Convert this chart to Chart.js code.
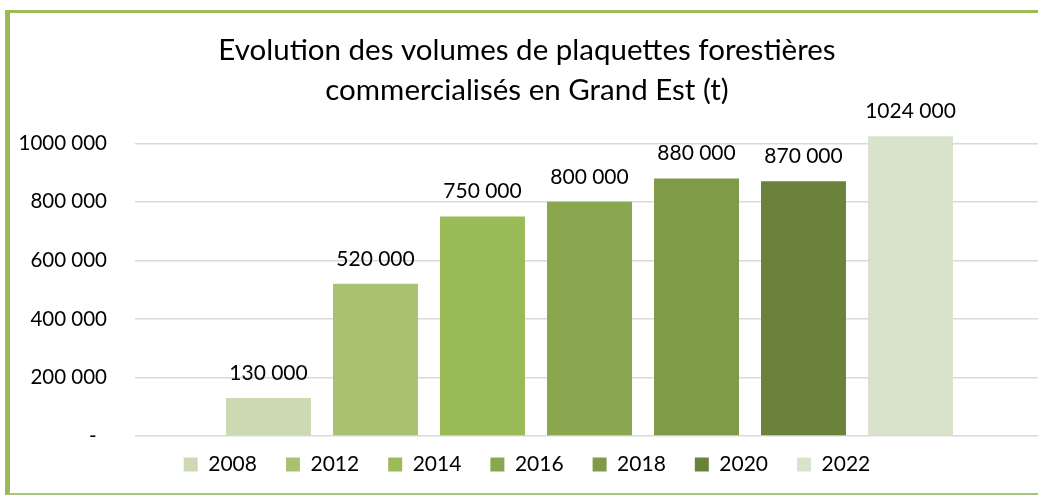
<!DOCTYPE html>
<html lang="fr">
<head>
<meta charset="utf-8">
<title>Plaquettes forestières Grand Est</title>
<script src="https://cdn.jsdelivr.net/npm/chart.js@4/dist/chart.umd.min.js"></script>
<style>
    html, body { margin: 0; padding: 0; background: #fff; overflow: hidden; }
    #frame {
        position: absolute;
        left: 5px;
        top: 10px;
        width: 1034px;
        height: 480px;
        border-left: 5px solid #9BBB59;
        border-top: 3px solid #9BBB59;
        border-right: 5px solid #9BBB59;
        border-bottom: 2px solid #A9C47F;
    }
    canvas { display: block; }
</style>
</head>
<body>
<div id="frame">
    <canvas id="chart" width="1034" height="480"></canvas>
</div>
<script>
const titleLines = ["Evolution des volumes de plaquettes forestières", "commercialisés en Grand Est (t)"];
const years = ["2008", "2012", "2014", "2016", "2018", "2020", "2022"];
const volumes = [130000, 520000, 750000, 800000, 880000, 870000, 1024000];
const barColors = ["#CCDAB4", "#A8C272", "#9BBB59", "#8AA64F", "#7F9A48", "#6B823C", "#D9E3CB"];
const yTickValues = [0, 200000, 400000, 600000, 800000, 1000000];

const FONT = "Lato";

// "1024 000" style, dash for zero
function fmt(v) {
    if (v === 0) return "-  ";
    const k = Math.floor(v / 1000);
    const r = v % 1000;
    return k + " " + String(r).padStart(3, "0");
}

// value labels above each bar
const barValues = {
    id: "barValues",
    afterDatasetsDraw(chart) {
        const ctx = chart.ctx;
        ctx.save();
        ctx.font = "21px " + FONT;
        ctx.fillStyle = "#000";
        ctx.textAlign = "center";
        ctx.textBaseline = "middle";
        chart.data.datasets.forEach((ds, i) => {
            const bar = chart.getDatasetMeta(i).data[0];
            ctx.fillText(fmt(ds.data[0]), bar.x, bar.y - 25);
        });
        ctx.restore();
    }
};

// legend sits a bit closer to the axis than chart.js would put it
const legendNudge = {
    id: "legendNudge",
    afterLayout(chart) {
        chart.legend.top -= 11;
        chart.legend.bottom -= 11;
    }
};

const datasets = years.map((y, i) => ({
    label: y,
    data: [volumes[i]],
    backgroundColor: barColors[i],
    borderWidth: 0,
    categoryPercentage: 0.824,
    barPercentage: 0.794
}));

new Chart(document.getElementById("chart"), {
    type: "bar",
    data: { labels: [""], datasets: datasets },
    options: {
        responsive: false,
        animation: false,
        layout: { padding: 0 },
        plugins: {
            title: {
                display: true,
                text: titleLines,
                color: "#000",
                font: { family: FONT, size: 29.5, weight: "normal", lineHeight: 40 / 29.5 },
                padding: { top: 17, bottom: 4 }
            },
            legend: {
                position: "bottom",
                maxHeight: 57,
                labels: {
                    color: "#000",
                    font: { family: FONT, size: 21 },
                    boxWidth: 14,
                    boxHeight: 14,
                    padding: 29
                }
            },
            tooltip: { enabled: false }
        },
        scales: {
            x: { display: false },
            y: {
                min: 0,
                max: 1100000,
                afterBuildTicks(scale) {
                    scale.ticks = yTickValues.map(v => ({ value: v }));
                },
                afterFit(scale) {
                    scale.width = 125;
                },
                border: { display: false },
                grid: { color: "#D9D9D9", lineWidth: 1.5, drawTicks: false },
                ticks: {
                    color: "#000",
                    font: { family: FONT, size: 20.5 },
                    padding: 28,
                    callback: v => fmt(v)
                }
            }
        }
    },
    plugins: [barValues, legendNudge]
});
</script>
</body>
</html>
